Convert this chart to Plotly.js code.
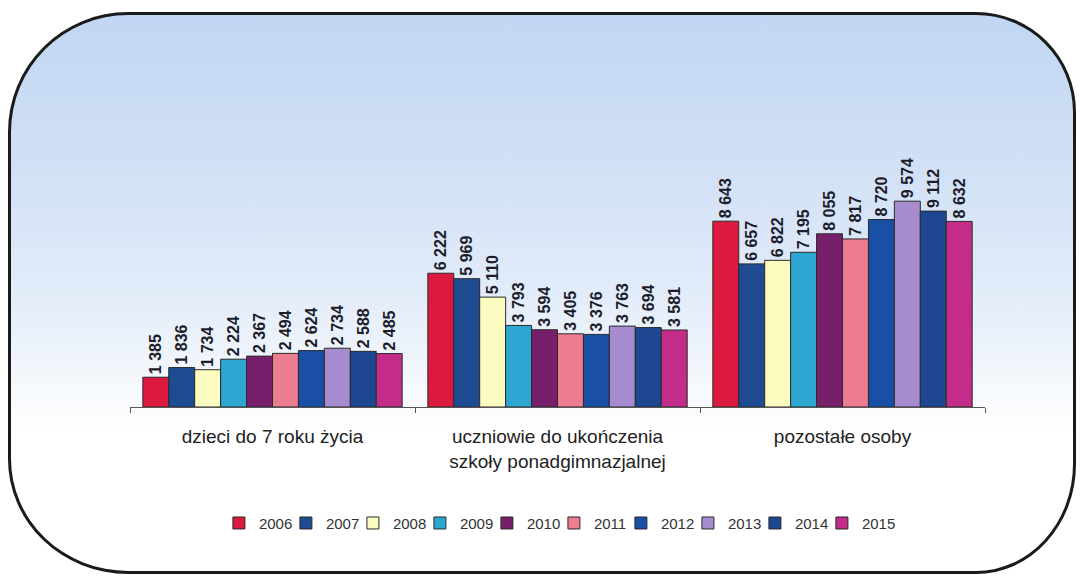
<!DOCTYPE html>
<html>
<head>
<meta charset="utf-8">
<script src="https://cdn.plot.ly/plotly-3.0.1.min.js"></script>
<style>
  html, body { margin: 0; padding: 0; background: #ffffff; }
  #wrap { position: relative; width: 1082px; height: 580px; overflow: hidden; background: #ffffff; }
  #frame {
    position: absolute; left: 8px; top: 12px; width: 1062px; height: 556px;
    border: 3px solid #1b1b1b;
    border-radius: 120px 100px 100px 120px / 120px 100px 110px 115px;
    background: linear-gradient(to bottom, #c2d6f3 0%, #cfdff5 25%, #e2ecf9 50%, #f3f7fc 65%, #ffffff 75%, #ffffff 100%);
  }
  #chart { position: absolute; left: 0; top: 0; width: 1082px; height: 580px; }
</style>
</head>
<body>
<div id="wrap">
  <div id="frame"></div>
  <div id="chart"></div>
</div>
<script>
const categories = ["dzieci do 7 roku życia", "uczniowie do ukończenia<br>szkoły ponadgimnazjalnej", "pozostałe osoby"];
const years = ["2006", "2007", "2008", "2009", "2010", "2011", "2012", "2013", "2014", "2015"];
const v2006 = [1385, 6222, 8643];
const v2007 = [1836, 5969, 6657];
const v2008 = [1734, 5110, 6822];
const v2009 = [2224, 3793, 7195];
const v2010 = [2367, 3594, 8055];
const v2011 = [2494, 3405, 7817];
const v2012 = [2624, 3376, 8720];
const v2013 = [2734, 3763, 9574];
const v2014 = [2588, 3694, 9112];
const v2015 = [2485, 3581, 8632];
const seriesValues = [v2006, v2007, v2008, v2009, v2010, v2011, v2012, v2013, v2014, v2015];
const colors = ["#dc1a40", "#1f4b93", "#fdfcc0", "#2ea6d2", "#76206c", "#ec7c90", "#1a4fa6", "#a68ccf", "#1d4790", "#c32c88"];

function fmt(v) { return String(v).replace(/\B(?=(\d{3})+(?!\d))/g, " "); }

const traces = years.map((y, i) => ({
  type: "bar",
  name: y,
  x: categories,
  y: seriesValues[i],
  text: seriesValues[i].map(fmt),
  textposition: "outside",
  textangle: -90,
  constraintext: "none",
  cliponaxis: false,
  textfont: { family: "Arial, Liberation Sans, sans-serif", size: 16, color: "#1c1c2a", weight: "bold" },
  marker: { color: colors[i], line: { color: "#2a2a2a", width: 1 } },
  hoverinfo: "skip"
}));
// spacer legend entry so the last label is not clipped by the fixed entry width
traces.push({
  type: "scatter", mode: "markers", name: "\u00a0",
  x: [categories[0]], y: [null],
  marker: { color: "rgba(0,0,0,0)", size: 1, line: { width: 0 } },
  hoverinfo: "skip", showlegend: true
});

const layout = {
  width: 1082, height: 580,
  margin: { l: 130, r: 97, t: 60, b: 173 },
  paper_bgcolor: "rgba(0,0,0,0)",
  plot_bgcolor: "rgba(0,0,0,0)",
  barmode: "group",
  bargap: 0.09,
  bargroupgap: 0,
  showlegend: true,
  font: { family: "Arial, Liberation Sans, sans-serif", color: "#222222" },
  xaxis: {
    type: "category",
    showline: true, linecolor: "#555555", linewidth: 1,
    ticks: "outside", tickson: "boundaries", ticklen: 5, tickcolor: "#555555",
    ticklabelstandoff: 12,
    tickfont: { size: 19, color: "#222222" },
    showgrid: false, zeroline: false
  },
  yaxis: {
    range: [0, 16140],
    visible: false, showgrid: false, zeroline: false
  },
  legend: {
    orientation: "h",
    x: 0.104, xanchor: "left",
    y: -0.335, yanchor: "middle",
    font: { size: 15, color: "#333333" },
    bgcolor: "rgba(0,0,0,0)",
    itemwidth: 30,
    entrywidth: 22,
    tracegroupgap: 0
  }
};

Plotly.newPlot("chart", traces, layout, { displayModeBar: false, staticPlot: true });
</script>
</body>
</html>
